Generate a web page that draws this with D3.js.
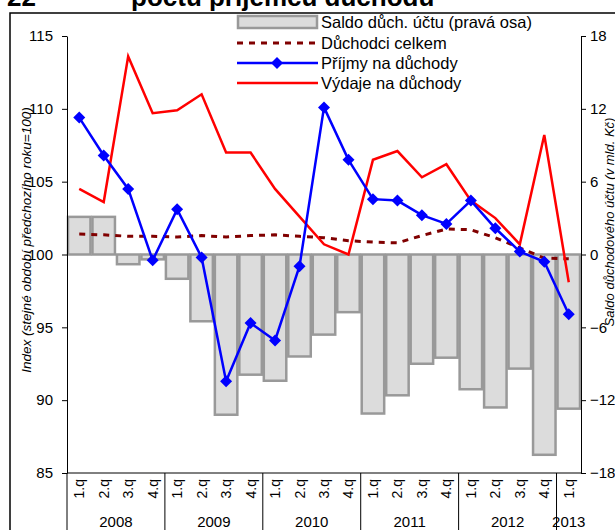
<!DOCTYPE html>
<html>
<head>
<meta charset="utf-8">
<title>duchodovy ucet</title>
<script src="https://d3js.org/d3.v7.min.js"></script>
<style>
  body { margin: 0; background: #fff; }
  svg text { font-family: Arial, "Liberation Sans", sans-serif; }
</style>
</head>
<body>
<script>
// data
var quarters = ["1.q","2.q","3.q","4.q","1.q","2.q","3.q","4.q","1.q","2.q","3.q","4.q",
                "1.q","2.q","3.q","4.q","1.q","2.q","3.q","4.q","1.q"];
var years = ["2008","2009","2010","2011","2012","2013"];
var saldo = [3.1,3.1,-0.8,-0.4,-2.0,-5.5,-13.2,-9.9,-10.4,-8.4,-6.6,-4.75,-13.1,-11.6,-9.0,-8.5,-11.1,-12.6,-9.4,-16.5,-12.7];
var duchodci = [101.4,101.35,101.25,101.25,101.2,101.3,101.2,101.3,101.35,101.25,101.15,100.95,100.85,100.8,101.3,101.75,101.7,101.15,100.45,99.75,99.7];
var prijmy = [109.4,106.8,104.5,99.6,103.1,99.8,91.3,95.3,94.1,99.2,110.1,106.5,103.8,103.7,102.7,102.1,103.7,101.8,100.2,99.5,95.9];
var vydaje = [104.5,103.6,113.6,109.7,109.9,111.0,107.0,107.0,104.5,102.6,100.7,100.0,106.5,107.1,105.3,106.2,103.7,102.5,100.7,108.2,98.1];
var leftTicks = [85,90,95,100,105,110,115];
var rightTicks = [-18,-12,-6,0,6,12,18];
var legendNames = ["Saldo důch. účtu (pravá osa)","Důchodci celkem","Příjmy na důchody","Výdaje na důchody"];

var width = 615, height = 530;
var plot = {left: 67, right: 581, top: 36, bottom: 473};

var svg = d3.select("body").append("svg")
    .attr("width", width)
    .attr("height", height);

var x = d3.scaleBand()
    .domain(d3.range(quarters.length))
    .range([plot.left, plot.right])
    .padding(0);
var yL = d3.scaleLinear().domain([85, 115]).range([plot.bottom, plot.top]);
var yR = d3.scaleLinear().domain([-18, 18]).range([plot.bottom, plot.top]);

// frame + title (cut off at top of the picture)
svg.append("path")
    .attr("d", "M10," + height + "V13H" + width)
    .attr("fill", "none").attr("stroke", "#000").attr("stroke-width", 1.5);
svg.append("text").attr("x", 7).attr("y", 6)
    .attr("font-size", 26).attr("font-weight", "bold").text("22");
svg.append("text").attr("x", 131).attr("y", 6)
    .attr("font-size", 26).attr("font-weight", "bold").text("počtu příjemců důchodů");

// bars (right axis)
svg.selectAll(".bar")
    .data(saldo)
    .enter()
    .append("rect")
    .attr("class", "bar")
    .attr("x", function(d, i){ return x(i) + 1; })
    .attr("width", x.bandwidth() - 2)
    .attr("y", function(d){ return yR(Math.max(0, d)); })
    .attr("height", function(d){ return Math.abs(yR(d) - yR(0)); })
    .attr("fill", "#dcdcdc")
    .attr("stroke", "#999")
    .attr("stroke-width", 2.5);

// axes
var axL = svg.append("g")
    .attr("transform", "translate(" + plot.left + ",0)")
    .call(d3.axisLeft(yL).tickValues(leftTicks).tickSize(5).tickSizeOuter(0).tickPadding(9));
var axR = svg.append("g")
    .attr("transform", "translate(" + plot.right + ",0)")
    .call(d3.axisRight(yR).tickValues(rightTicks).tickSize(5).tickSizeOuter(0).tickPadding(4));
[axL, axR].forEach(function(g){
  g.selectAll("text").attr("font-size", 15).attr("font-family", "Arial, 'Liberation Sans', sans-serif").attr("fill", "#000");
  g.selectAll("line,path").attr("stroke", "#000");
});

// x axis with grouped labels
svg.append("line")
    .attr("x1", plot.left).attr("x2", plot.right)
    .attr("y1", plot.bottom).attr("y2", plot.bottom)
    .attr("stroke", "#000");
svg.selectAll(".sep")
    .data(years)
    .enter()
    .append("line")
    .attr("class", "sep")
    .attr("x1", function(d, i){ return x(i * 4); })
    .attr("x2", function(d, i){ return x(i * 4); })
    .attr("y1", plot.bottom).attr("y2", height)
    .attr("stroke", "#000");
svg.selectAll(".qlab")
    .data(quarters)
    .enter()
    .append("text")
    .attr("class", "qlab")
    .attr("transform", function(d, i){
      return "translate(" + (x(i) + x.bandwidth() / 2 + 5) + "," + (plot.bottom + 6) + ") rotate(-90)";
    })
    .attr("text-anchor", "end")
    .attr("font-size", 14)
    .text(function(d){ return d; });
svg.selectAll(".ylab")
    .data(years)
    .enter()
    .append("text")
    .attr("class", "ylab")
    .attr("x", function(d, i){
      var a = x(i * 4), b = Math.min(i * 4 + 3, quarters.length - 1);
      return (a + x(b) + x.bandwidth()) / 2;
    })
    .attr("y", 527)
    .attr("text-anchor", "middle")
    .attr("font-size", 15)
    .text(function(d){ return d; });

// axis titles
svg.append("text")
    .attr("transform", "translate(31,240) rotate(-90)")
    .attr("text-anchor", "middle")
    .attr("font-size", 13.5).attr("font-style", "italic")
    .text("Index (stejné období předchozího roku=100)");
svg.append("text")
    .attr("transform", "translate(614,222) rotate(-90)")
    .attr("text-anchor", "middle")
    .attr("font-size", 13).attr("font-style", "italic")
    .text("Saldo důchodového účtu (v mld. Kč)");

// lines (left axis)
var line = d3.line()
    .x(function(d, i){ return x(i) + x.bandwidth() / 2; })
    .y(function(d){ return yL(d); });

svg.append("path").attr("d", line(duchodci))
    .attr("fill", "none").attr("stroke", "#800000")
    .attr("stroke-width", 3).attr("stroke-dasharray", "6,6");
svg.append("path").attr("d", line(vydaje))
    .attr("fill", "none").attr("stroke", "#ff0000").attr("stroke-width", 2.5);
svg.append("path").attr("d", line(prijmy))
    .attr("fill", "none").attr("stroke", "#0000ff").attr("stroke-width", 2.5);

var diamond = "M0,-6L6,0L0,6L-6,0Z";
svg.selectAll(".pt")
    .data(prijmy)
    .enter()
    .append("path")
    .attr("class", "pt")
    .attr("d", diamond)
    .attr("transform", function(d, i){
      return "translate(" + (x(i) + x.bandwidth() / 2) + "," + yL(d) + ")";
    })
    .attr("fill", "#0000ff");

// legend
var lg = svg.append("g").attr("transform", "translate(237,0)");
var rows = [22, 43, 63, 83];
lg.append("rect").attr("x", 1).attr("y", rows[0] - 6).attr("width", 79).attr("height", 12)
    .attr("fill", "#dcdcdc").attr("stroke", "#999").attr("stroke-width", 2.5);
lg.append("line").attr("x1", 0).attr("x2", 81).attr("y1", rows[1]).attr("y2", rows[1])
    .attr("stroke", "#800000").attr("stroke-width", 3).attr("stroke-dasharray", "6,6");
lg.append("line").attr("x1", 0).attr("x2", 81).attr("y1", rows[2]).attr("y2", rows[2])
    .attr("stroke", "#0000ff").attr("stroke-width", 2.5);
lg.append("path").attr("d", diamond).attr("transform", "translate(40," + rows[2] + ")").attr("fill", "#0000ff");
lg.append("line").attr("x1", 0).attr("x2", 81).attr("y1", rows[3]).attr("y2", rows[3])
    .attr("stroke", "#ff0000").attr("stroke-width", 2.5);
lg.selectAll(".lt")
    .data(legendNames)
    .enter()
    .append("text")
    .attr("class", "lt")
    .attr("x", 84)
    .attr("y", function(d, i){ return rows[i]; })
    .attr("dy", "0.35em")
    .attr("font-size", 16.5)
    .text(function(d){ return d; });
</script>
</body>
</html>
